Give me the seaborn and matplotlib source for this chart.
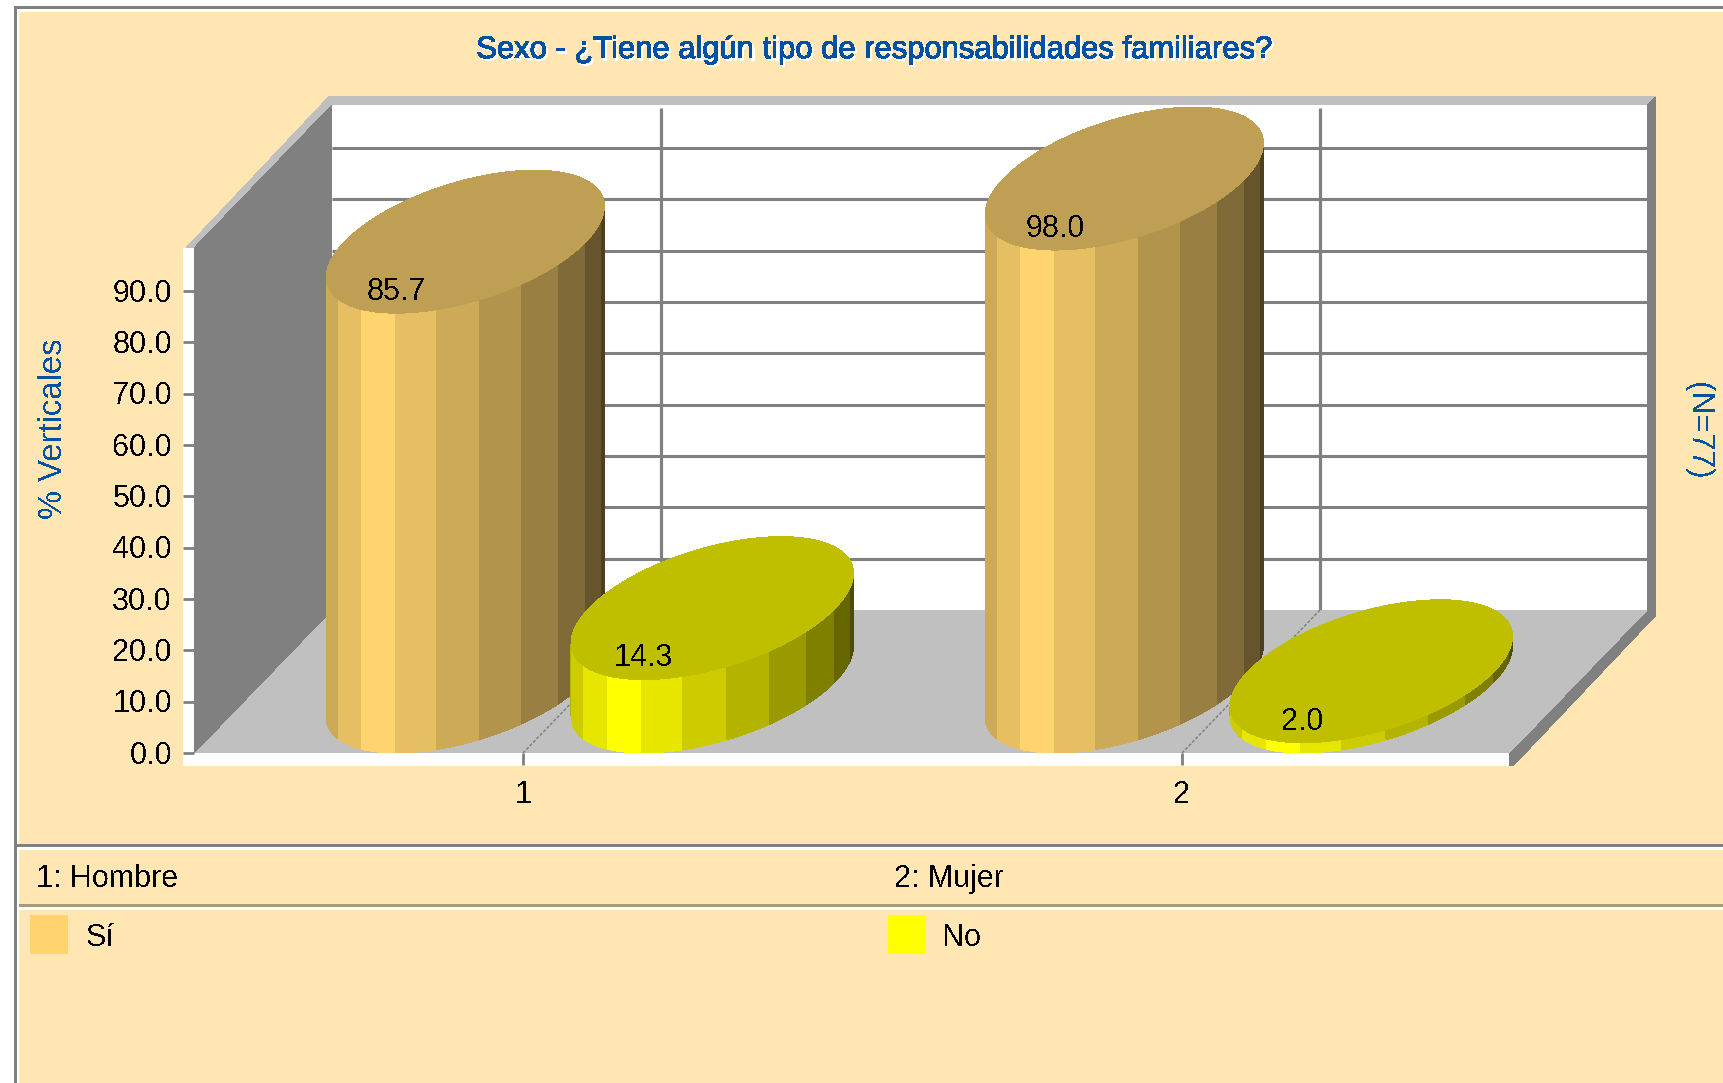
import numpy as np
import pandas as pd
import matplotlib
matplotlib.use("Agg")
import matplotlib.pyplot as plt
import matplotlib.patheffects as pe
from matplotlib.patches import Polygon, Rectangle
from matplotlib.transforms import ScaledTranslation
import seaborn as sns

categories = ["1", "2"]
category_names = ["1: Hombre", "2: Mujer"]
series_names = ["Sí", "No"]
si_values = [85.7, 98.0]
no_values = [14.3, 2.0]
y_ticks = [0, 10, 20, 30, 40, 50, 60, 70, 80, 90]
title = "Sexo - ¿Tiene algún tipo de responsabilidades familiares?"

sns.set_theme(style="white")
plt.rcParams["font.family"] = ["Liberation Sans", "DejaVu Sans"]
plt.rcParams["text.antialiased"] = False

BG = "#FFE6B3"
GREY = "#808080"
LIGHT = "#BFBFBF"
BLUE = "#0050A5"
colors = {"Sí": "#FFD46E", "No": "#FFFF00"}
FS = 22

W, H = 1724, 1083
# front plane of the box, in pixels
X0, X1, Y0, Y1 = 194, 1509, 753, 248
CAT_PX = 659  # pixels between the two categories
YMAX = 98.4
XLIM = (-(523 - X0) / CAT_PX, 1 + (X1 - 523 - CAT_PX) / CAT_PX)
DX = 138 / CAT_PX  # depth, category units
DY = 143 / ((Y0 - Y1) / YMAX)  # depth, value units

# facet edges round the visible half of a cylinder, and their shade
edges = np.radians([-180, -174, -156, -138, -120, -102, -84, -66, -48, -30, -12, 0])
shades = [0.7, 0.8, 0.9, 1.0, 0.9, 0.8, 0.7, 0.6, 0.5, 0.4, 0.3]
TOP_SHADE = 0.75
trim = {"Sí": 0.98, "No": 1.0}  # the tan cylinders are a little narrower
nudge = {"Sí": -1 / CAT_PX, "No": -3 / CAT_PX}  # bars sit slightly left of seaborn's dodge

fig = plt.figure(figsize=(W / 100, H / 100), dpi=100, facecolor="white")

# panel frame, in pixels
bg = fig.add_axes([0, 0, 1, 1], zorder=0)
bg.set_xlim(0, W)
bg.set_ylim(H, 0)
bg.axis("off")


def box(x, y, w, h, color):
    bg.add_patch(Rectangle((x, y), w, h, fc=color, lw=0, antialiased=False))


def poly(target, pts, color, z=1):
    target.add_patch(Polygon(pts, closed=True, fc=color, ec="none", lw=0, zorder=z,
                             antialiased=False, clip_on=False))


box(14, 6, W, 3, GREY)
box(14, 6, 3, H, GREY)
box(19, 12, W, H, BG)
box(15, 844, W, 3, GREY)
box(19, 847, W, 3, "white")
box(19, 904, W, 3, "#A89A78")
box(19, 907, W, 3, "white")
box(183, 248, 11, 518, "white")
box(183, 753, X1 - 183, 13, "white")
poly(bg, [(186, 248), (329.5, 96), (1656, 96), (1656, 105), (332, 105), (194, 248)], LIGHT)
poly(bg, [(1647, 105), (1656, 97), (1656, 615), (1513, 766), (1509, 766), (1509, 753), (1647, 610)], GREY)

bg.text(876, 58, title, color=BLUE, fontsize=22.3, ha="center", va="baseline",
        path_effects=[pe.withSimplePatchShadow(offset=(1.5, -1.5), shadow_rgbFace="white", alpha=1.0)])
bg.text(54, 429, "% Verticales", color=BLUE, fontsize=23.6, rotation=90, ha="center", va="center")
bg.text(1698, 431, "(N=77)", color=BLUE, fontsize=22.8, rotation=270, ha="center", va="center")
bg.text(36, 887, category_names[0], color="black", fontsize=FS, va="baseline")
bg.text(894, 887, category_names[1], color="black", fontsize=FS, va="baseline")
box(30, 915, 38, 39, colors["Sí"])
box(888, 915, 38, 39, colors["No"])
bg.text(86, 946, series_names[0], color="black", fontsize=FS, va="baseline")
bg.text(943, 946, series_names[1], color="black", fontsize=FS, va="baseline")

# chart axes sit on the front plane of the box
ax = fig.add_axes([X0 / W, 1 - Y0 / H, (X1 - X0) / W, (Y0 - Y1) / H], zorder=1)
ax.patch.set_visible(False)

df = pd.DataFrame({
    "cat": categories * 2,
    "serie": [series_names[0]] * 2 + [series_names[1]] * 2,
    "pct": si_values + no_values,
})
sns.barplot(data=df, x="cat", y="pct", hue="serie", order=categories, hue_order=series_names,
            palette=colors, width=0.748, errorbar=None, legend=False, ax=ax)

ax.set_xlim(*XLIM)
ax.set_ylim(0, YMAX)
ax.set_xlabel("")
ax.set_ylabel("")
sns.despine(ax=ax, left=True, bottom=True)
ax.set_yticks(y_ticks, [f"{v:.1f}" for v in y_ticks])
ax.tick_params(axis="y", length=7.9, width=2, color=GREY, pad=8, labelsize=FS, labelcolor="black", left=True)
ax.tick_params(axis="x", length=8.6, width=2, color=GREY, pad=11, labelsize=FS, labelcolor="black", bottom=True)
for lab in ax.get_yticklabels():
    lab.set_transform(lab.get_transform() + ScaledTranslation(0, 0.7 / 72, fig.dpi_scale_trans))

# box walls, floor and grid
xa, xb = ax.get_xlim()
ax.add_patch(Rectangle((xa + DX, DY), xb - xa, YMAX, fc="white", lw=0, zorder=1, clip_on=False, antialiased=False))
poly(ax, [(xa, 0), (xa + DX, DY), (xb + DX, DY), (xb, 0)], "#C0C0C0", 1.2)
poly(ax, [(xa, 0), (xa + DX, DY), (xa + DX, DY + YMAX), (xa, YMAX)], GREY, 1.3)
for v in y_ticks[1:]:
    ax.plot([xa + DX, xb + DX], [v + DY, v + DY], color=GREY, lw=2.2, zorder=1.1,
            clip_on=False, solid_capstyle="butt")
for i in range(len(categories)):
    ax.plot([i + DX, i + DX], [DY, DY + YMAX - 0.6], color=GREY, lw=2.3, zorder=1.1,
            clip_on=False, solid_capstyle="butt")
    ax.plot([i, i + DX], [0, DY], color=GREY, lw=1.1, ls=(0, (2, 1.2)), zorder=1.25, clip_on=False)

# each seaborn bar becomes a cylinder standing on the floor
bars = []
for name, container in zip(series_names, ax.containers):
    for bar in container:
        bar.set_visible(False)
        bars.append((bar.get_x() + bar.get_width() / 2, bar.get_width(), bar.get_height(), name))
bars.sort(key=lambda b: b[0])

z = 5
for xc, width, value, name in bars:
    base = np.array(matplotlib.colors.to_rgb(colors[name]))
    ux, vx, vy = width / 2 * trim[name], DX / 2, DY / 2
    xc = xc - (width / 2 - ux) + nudge[name]
    t0 = np.arctan2(vx, ux)
    cx = xc + vx

    def rim(theta, level):
        t = theta + t0
        return np.column_stack([cx + ux * np.cos(t) + vx * np.sin(t), level + vy + vy * np.sin(t)])

    for a, b, s in zip(edges[:-1], edges[1:], shades):
        th = np.linspace(a, b, 12)
        low = rim(th, 0)
        high = rim(th, value)
        poly(ax, np.vstack([low, high[::-1]]), base * s, z)
    th = np.linspace(0, 2 * np.pi, 180)
    poly(ax, rim(th, value), base * TOP_SHADE, z + 0.5)
    ax.annotate(f"{value:.1f}", xy=(xc, value), xytext=(0, 9.5), textcoords="offset points",
                ha="center", va="baseline", fontsize=FS, color="black", zorder=z + 0.6,
                annotation_clip=False)
    z += 1

fig.savefig("out.png", dpi=100)
